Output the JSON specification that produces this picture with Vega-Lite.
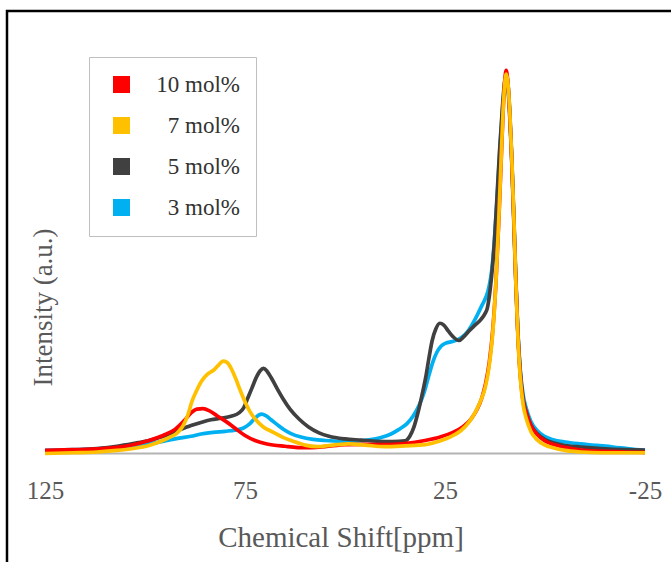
{
"$schema":"https://vega.github.io/schema/vega-lite/v6.json",
"width":667,"height":554,
"padding":{"left":7,"top":11,"right":-3,"bottom":-3},
"autosize":{"type":"none"},
"background":"white",
"view":{"stroke":"#000000","strokeWidth":2.5},
"config":{"font":"Liberation Serif"},
"datasets":{
"base":[{"x1":125,"x2":-25,"y":0}],
"spectra":[
{"s":"3 mol%","x":125,"y":0.8},{"s":"3 mol%","x":118,"y":1.0},{"s":"3 mol%","x":112,"y":1.2},{"s":"3 mol%","x":107,"y":1.5},{"s":"3 mol%","x":103,"y":1.9},{"s":"3 mol%","x":99,"y":2.5},{"s":"3 mol%","x":95,"y":3.3},{"s":"3 mol%","x":91.5,"y":4},{"s":"3 mol%","x":88.5,"y":4.5},{"s":"3 mol%","x":86,"y":5.1},{"s":"3 mol%","x":83,"y":5.5},{"s":"3 mol%","x":80,"y":5.8},{"s":"3 mol%","x":77.5,"y":6.1},{"s":"3 mol%","x":75.5,"y":6.6},{"s":"3 mol%","x":74,"y":7.6},{"s":"3 mol%","x":72.7,"y":9},{"s":"3 mol%","x":71.6,"y":10},{"s":"3 mol%","x":70.8,"y":10.3},{"s":"3 mol%","x":69.8,"y":9.9},{"s":"3 mol%","x":68.5,"y":8.8},{"s":"3 mol%","x":67,"y":7.6},{"s":"3 mol%","x":65.5,"y":6.4},{"s":"3 mol%","x":63.5,"y":5.2},{"s":"3 mol%","x":61,"y":4.3},{"s":"3 mol%","x":58,"y":3.7},{"s":"3 mol%","x":55,"y":3.4},{"s":"3 mol%","x":51,"y":3.2},{"s":"3 mol%","x":47,"y":3.3},{"s":"3 mol%","x":44,"y":3.6},{"s":"3 mol%","x":41,"y":4.2},{"s":"3 mol%","x":38.5,"y":5.1},{"s":"3 mol%","x":36.5,"y":6.3},{"s":"3 mol%","x":34.5,"y":7.8},{"s":"3 mol%","x":33,"y":9.7},{"s":"3 mol%","x":31.5,"y":12.5},{"s":"3 mol%","x":30.2,"y":16},{"s":"3 mol%","x":29,"y":20.5},{"s":"3 mol%","x":28,"y":24},{"s":"3 mol%","x":27,"y":26.5},{"s":"3 mol%","x":26,"y":28},{"s":"3 mol%","x":24.8,"y":28.8},{"s":"3 mol%","x":23.3,"y":29.2},{"s":"3 mol%","x":22,"y":29.6},{"s":"3 mol%","x":20.7,"y":30.4},{"s":"3 mol%","x":19.5,"y":31.6},{"s":"3 mol%","x":18.3,"y":33.5},{"s":"3 mol%","x":17,"y":36},{"s":"3 mol%","x":15.7,"y":38.8},{"s":"3 mol%","x":14.7,"y":41},{"s":"3 mol%","x":14,"y":43.5},{"s":"3 mol%","x":13.3,"y":48},{"s":"3 mol%","x":12.7,"y":55},{"s":"3 mol%","x":12,"y":66},{"s":"3 mol%","x":11.3,"y":79},{"s":"3 mol%","x":10.6,"y":90},{"s":"3 mol%","x":10.1,"y":96},{"s":"3 mol%","x":9.7,"y":97.5},{"s":"3 mol%","x":9.3,"y":95.5},{"s":"3 mol%","x":8.8,"y":88},{"s":"3 mol%","x":8.3,"y":76},{"s":"3 mol%","x":7.8,"y":61},{"s":"3 mol%","x":7.3,"y":45},{"s":"3 mol%","x":6.8,"y":32},{"s":"3 mol%","x":6.2,"y":22},{"s":"3 mol%","x":5.5,"y":15.5},{"s":"3 mol%","x":4.6,"y":11.5},{"s":"3 mol%","x":3.5,"y":8.3},{"s":"3 mol%","x":2,"y":6},{"s":"3 mol%","x":0,"y":4.4},{"s":"3 mol%","x":-2,"y":3.6},{"s":"3 mol%","x":-5,"y":3},{"s":"3 mol%","x":-9,"y":2.5},{"s":"3 mol%","x":-13,"y":2.1},{"s":"3 mol%","x":-17,"y":1.7},{"s":"3 mol%","x":-21,"y":1.2},{"s":"3 mol%","x":-25,"y":0.8},
{"s":"5 mol%","x":125,"y":0.6},{"s":"5 mol%","x":118,"y":0.9},{"s":"5 mol%","x":112,"y":1.3},{"s":"5 mol%","x":107,"y":1.9},{"s":"5 mol%","x":103,"y":2.6},{"s":"5 mol%","x":99,"y":3.4},{"s":"5 mol%","x":96,"y":4.3},{"s":"5 mol%","x":93.5,"y":5.2},{"s":"5 mol%","x":91,"y":6.3},{"s":"5 mol%","x":88.5,"y":7.3},{"s":"5 mol%","x":86,"y":8.1},{"s":"5 mol%","x":83.5,"y":8.8},{"s":"5 mol%","x":81,"y":9.2},{"s":"5 mol%","x":78.5,"y":9.7},{"s":"5 mol%","x":76.5,"y":10.6},{"s":"5 mol%","x":75.3,"y":12},{"s":"5 mol%","x":74.3,"y":14.5},{"s":"5 mol%","x":73.3,"y":17},{"s":"5 mol%","x":72.2,"y":19.8},{"s":"5 mol%","x":71.2,"y":21.6},{"s":"5 mol%","x":70.4,"y":22.2},{"s":"5 mol%","x":69.5,"y":21.5},{"s":"5 mol%","x":68.3,"y":19.5},{"s":"5 mol%","x":67,"y":17},{"s":"5 mol%","x":65.5,"y":14.3},{"s":"5 mol%","x":63.7,"y":11.5},{"s":"5 mol%","x":61.5,"y":9},{"s":"5 mol%","x":59.2,"y":7},{"s":"5 mol%","x":56.5,"y":5.4},{"s":"5 mol%","x":54,"y":4.5},{"s":"5 mol%","x":50,"y":3.8},{"s":"5 mol%","x":46,"y":3.5},{"s":"5 mol%","x":42,"y":3.2},{"s":"5 mol%","x":38,"y":3.1},{"s":"5 mol%","x":35,"y":3.3},{"s":"5 mol%","x":33.8,"y":4.5},{"s":"5 mol%","x":32.8,"y":6.8},{"s":"5 mol%","x":31.8,"y":10.5},{"s":"5 mol%","x":30.8,"y":15},{"s":"5 mol%","x":29.8,"y":20},{"s":"5 mol%","x":29,"y":25},{"s":"5 mol%","x":28.2,"y":29.5},{"s":"5 mol%","x":27.3,"y":32.5},{"s":"5 mol%","x":26.3,"y":34},{"s":"5 mol%","x":25.3,"y":33.5},{"s":"5 mol%","x":24.2,"y":32},{"s":"5 mol%","x":23,"y":30.5},{"s":"5 mol%","x":21.5,"y":29.5},{"s":"5 mol%","x":20.3,"y":30.5},{"s":"5 mol%","x":19,"y":32},{"s":"5 mol%","x":17.5,"y":33.5},{"s":"5 mol%","x":16,"y":35},{"s":"5 mol%","x":15,"y":36.5},{"s":"5 mol%","x":14.4,"y":38},{"s":"5 mol%","x":13.8,"y":42},{"s":"5 mol%","x":13.2,"y":48},{"s":"5 mol%","x":12.6,"y":56},{"s":"5 mol%","x":12,"y":67},{"s":"5 mol%","x":11.3,"y":80},{"s":"5 mol%","x":10.6,"y":91},{"s":"5 mol%","x":10.1,"y":97},{"s":"5 mol%","x":9.7,"y":99},{"s":"5 mol%","x":9.3,"y":97},{"s":"5 mol%","x":8.8,"y":89},{"s":"5 mol%","x":8.3,"y":77},{"s":"5 mol%","x":7.8,"y":62},{"s":"5 mol%","x":7.3,"y":46},{"s":"5 mol%","x":6.8,"y":32},{"s":"5 mol%","x":6.2,"y":21.5},{"s":"5 mol%","x":5.5,"y":14.5},{"s":"5 mol%","x":4.6,"y":10.5},{"s":"5 mol%","x":3.5,"y":7.4},{"s":"5 mol%","x":2,"y":5.2},{"s":"5 mol%","x":0,"y":3.6},{"s":"5 mol%","x":-2,"y":2.8},{"s":"5 mol%","x":-5,"y":2.1},{"s":"5 mol%","x":-9,"y":1.7},{"s":"5 mol%","x":-14,"y":1.3},{"s":"5 mol%","x":-20,"y":1.0},{"s":"5 mol%","x":-25,"y":0.9},
{"s":"10 mol%","x":125,"y":0.8},{"s":"10 mol%","x":118,"y":1.0},{"s":"10 mol%","x":112,"y":1.2},{"s":"10 mol%","x":107,"y":1.6},{"s":"10 mol%","x":103,"y":2.3},{"s":"10 mol%","x":99,"y":3.4},{"s":"10 mol%","x":95.5,"y":4.7},{"s":"10 mol%","x":92.5,"y":6.3},{"s":"10 mol%","x":90,"y":8.8},{"s":"10 mol%","x":88.5,"y":10.6},{"s":"10 mol%","x":87,"y":11.6},{"s":"10 mol%","x":85.5,"y":11.7},{"s":"10 mol%","x":84,"y":11.2},{"s":"10 mol%","x":82.5,"y":10.2},{"s":"10 mol%","x":81,"y":9.2},{"s":"10 mol%","x":79,"y":7.8},{"s":"10 mol%","x":77,"y":6.2},{"s":"10 mol%","x":75,"y":4.7},{"s":"10 mol%","x":72.5,"y":3.4},{"s":"10 mol%","x":69.5,"y":2.5},{"s":"10 mol%","x":65,"y":1.9},{"s":"10 mol%","x":60,"y":1.5},{"s":"10 mol%","x":55,"y":1.8},{"s":"10 mol%","x":50,"y":2.3},{"s":"10 mol%","x":45,"y":2.4},{"s":"10 mol%","x":40,"y":2.3},{"s":"10 mol%","x":35,"y":2.6},{"s":"10 mol%","x":30,"y":3.4},{"s":"10 mol%","x":26,"y":4.4},{"s":"10 mol%","x":23,"y":5.5},{"s":"10 mol%","x":20.5,"y":7},{"s":"10 mol%","x":18.5,"y":9},{"s":"10 mol%","x":17,"y":11.5},{"s":"10 mol%","x":15.8,"y":14.5},{"s":"10 mol%","x":14.8,"y":18.5},{"s":"10 mol%","x":13.9,"y":24},{"s":"10 mol%","x":13,"y":33},{"s":"10 mol%","x":12.2,"y":46},{"s":"10 mol%","x":11.5,"y":62},{"s":"10 mol%","x":10.9,"y":78},{"s":"10 mol%","x":10.4,"y":91},{"s":"10 mol%","x":10,"y":98},{"s":"10 mol%","x":9.7,"y":100},{"s":"10 mol%","x":9.3,"y":97},{"s":"10 mol%","x":8.9,"y":90},{"s":"10 mol%","x":8.4,"y":79},{"s":"10 mol%","x":7.9,"y":64},{"s":"10 mol%","x":7.4,"y":48},{"s":"10 mol%","x":6.9,"y":34},{"s":"10 mol%","x":6.3,"y":22},{"s":"10 mol%","x":5.6,"y":14.5},{"s":"10 mol%","x":4.6,"y":10.4},{"s":"10 mol%","x":3.5,"y":7.3},{"s":"10 mol%","x":2,"y":5},{"s":"10 mol%","x":0,"y":3.3},{"s":"10 mol%","x":-2,"y":2.4},{"s":"10 mol%","x":-5,"y":1.6},{"s":"10 mol%","x":-9,"y":0.9},{"s":"10 mol%","x":-14,"y":0.6},{"s":"10 mol%","x":-20,"y":0.4},{"s":"10 mol%","x":-25,"y":0.3},
{"s":"7 mol%","x":125,"y":0},{"s":"7 mol%","x":118,"y":0.2},{"s":"7 mol%","x":112,"y":0.4},{"s":"7 mol%","x":107,"y":0.8},{"s":"7 mol%","x":103,"y":1.3},{"s":"7 mol%","x":99,"y":2.1},{"s":"7 mol%","x":96,"y":3.2},{"s":"7 mol%","x":93.5,"y":4.4},{"s":"7 mol%","x":92,"y":5.3},{"s":"7 mol%","x":90.5,"y":7.2},{"s":"7 mol%","x":89.3,"y":10},{"s":"7 mol%","x":88.3,"y":13.5},{"s":"7 mol%","x":87.2,"y":16.2},{"s":"7 mol%","x":85.8,"y":19},{"s":"7 mol%","x":84.3,"y":20.8},{"s":"7 mol%","x":82.8,"y":21.8},{"s":"7 mol%","x":81.5,"y":23.2},{"s":"7 mol%","x":80.5,"y":24.1},{"s":"7 mol%","x":79.5,"y":23.8},{"s":"7 mol%","x":78.5,"y":22.3},{"s":"7 mol%","x":77.3,"y":19.5},{"s":"7 mol%","x":76.2,"y":16.5},{"s":"7 mol%","x":75,"y":13.5},{"s":"7 mol%","x":73.8,"y":11},{"s":"7 mol%","x":72.3,"y":8.8},{"s":"7 mol%","x":70.5,"y":7},{"s":"7 mol%","x":68,"y":5.6},{"s":"7 mol%","x":65.5,"y":4.2},{"s":"7 mol%","x":63,"y":3.2},{"s":"7 mol%","x":60,"y":2.2},{"s":"7 mol%","x":57,"y":1.8},{"s":"7 mol%","x":53,"y":2.2},{"s":"7 mol%","x":49,"y":2.5},{"s":"7 mol%","x":45,"y":2.2},{"s":"7 mol%","x":40,"y":1.8},{"s":"7 mol%","x":35,"y":2},{"s":"7 mol%","x":30,"y":2.3},{"s":"7 mol%","x":26.5,"y":3.2},{"s":"7 mol%","x":23.5,"y":4.4},{"s":"7 mol%","x":21,"y":6},{"s":"7 mol%","x":19,"y":8.2},{"s":"7 mol%","x":17.3,"y":11},{"s":"7 mol%","x":16,"y":14},{"s":"7 mol%","x":15,"y":17},{"s":"7 mol%","x":14,"y":22.5},{"s":"7 mol%","x":13.1,"y":31},{"s":"7 mol%","x":12.3,"y":44},{"s":"7 mol%","x":11.6,"y":60},{"s":"7 mol%","x":11,"y":76},{"s":"7 mol%","x":10.5,"y":89},{"s":"7 mol%","x":10.1,"y":96},{"s":"7 mol%","x":9.7,"y":99},{"s":"7 mol%","x":9.3,"y":97},{"s":"7 mol%","x":8.8,"y":89},{"s":"7 mol%","x":8.3,"y":77},{"s":"7 mol%","x":7.8,"y":62},{"s":"7 mol%","x":7.3,"y":45},{"s":"7 mol%","x":6.8,"y":31},{"s":"7 mol%","x":6.2,"y":20},{"s":"7 mol%","x":5.5,"y":13},{"s":"7 mol%","x":4.6,"y":8.8},{"s":"7 mol%","x":3.5,"y":5.7},{"s":"7 mol%","x":2,"y":3.6},{"s":"7 mol%","x":0,"y":2.2},{"s":"7 mol%","x":-2,"y":1.5},{"s":"7 mol%","x":-5,"y":0.8},{"s":"7 mol%","x":-9,"y":0.4},{"s":"7 mol%","x":-14,"y":0.2},{"s":"7 mol%","x":-20,"y":0.2},{"s":"7 mol%","x":-25,"y":0.2}
]},
"layer":[
{"data":{"name":"base"},
 "mark":{"type":"rule","color":"#b4b4b4","strokeWidth":2},
 "encoding":{
  "x":{"field":"x1","type":"quantitative","scale":{"domain":[-32.25,134.5],"reverse":true,"nice":false,"zero":false}},
  "x2":{"field":"x2"},
  "y":{"field":"y","type":"quantitative","scale":{"domain":[-29.1,115.5],"nice":false,"zero":false}}
 }},
{"data":{"name":"spectra"},
 "mark":{"type":"line","strokeWidth":3.7,"interpolate":"monotone"},
 "encoding":{
  "x":{"field":"x","type":"quantitative","scale":{"domain":[-32.25,134.5],"reverse":true,"nice":false,"zero":false},
   "axis":{"title":"Chemical Shift[ppm]","values":[125,75,25,-25],"labelExpr":"'' + datum.value","domain":false,"ticks":false,"grid":false,"offset":-87,"labelPadding":0,"labelFontSize":25,"labelColor":"#595959","titleFontSize":29,"titleFontWeight":"normal","titleColor":"#595959","titlePadding":20}},
  "y":{"field":"y","type":"quantitative","scale":{"domain":[-29.1,115.5],"nice":false,"zero":false},
   "axis":{"title":"Intensity (a.u.)","labels":false,"ticks":false,"domain":false,"grid":false,"titleFontSize":27,"titleFontWeight":"normal","titleColor":"#595959","titleX":36,"titleY":296,"titleAngle":-90,"titleAlign":"center","titleBaseline":"middle"}},
  "color":{"field":"s","type":"nominal","scale":{"domain":["10 mol%","7 mol%","5 mol%","3 mol%"],"range":["#ff0000","#ffc000","#404040","#00b0f0"]},
   "legend":{"orient":"none","legendX":82,"legendY":46,"title":null,"symbolType":"square","symbolSize":289,"symbolStrokeWidth":0,"symbolOffset":5,"labelFontSize":23,"labelColor":"#333333","labelAlign":"right","labelOffset":107,"rowPadding":17,"padding":16,"strokeColor":"#bfbfbf","fillColor":"white",
    "encode":{"symbols":{"update":{"fill":{"scale":"color","field":"value"},"strokeWidth":{"value":0}}}}}}
 }}
]
}
